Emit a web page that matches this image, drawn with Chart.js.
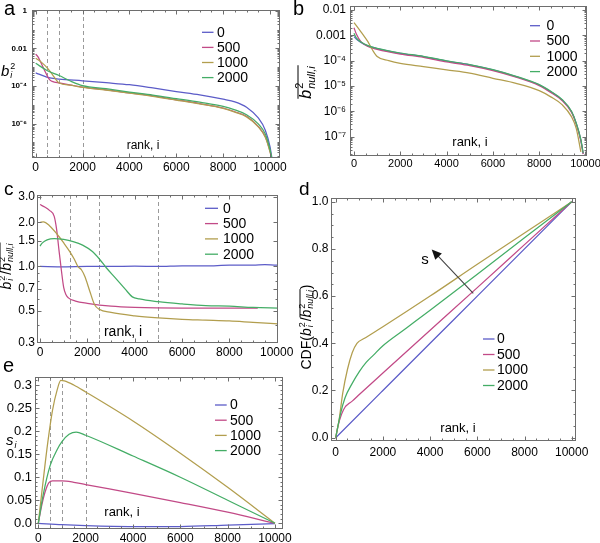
<!DOCTYPE html>
<html>
<head>
<meta charset="utf-8">
<script src="https://cdn.jsdelivr.net/npm/chart.js@4.4.1/dist/chart.umd.min.js"></script>
<style>
html,body{margin:0;padding:0;background:#fff;}
#wrap{position:relative;width:600px;height:543px;overflow:hidden;background:#fff;}
#wrap canvas{position:absolute;left:0;top:0;}
</style>
</head>
<body>
<div id="wrap">
<canvas id="pa" width="600" height="543"></canvas>
<canvas id="pb" width="600" height="543"></canvas>
<canvas id="pc" width="600" height="543"></canvas>
<canvas id="pd" width="600" height="543"></canvas>
<canvas id="pe" width="600" height="543"></canvas>
</div>
<script>
// ---------- shared ----------
const seriesNames = ['0', '500', '1000', '2000'];
const seriesColors = ['#5c5cc8', '#c24a87', '#b29e4e', '#44ad66'];
const rankTicks = [0, 2000, 4000, 6000, 8000, 10000];
const rankTickLabels = ['0', '2000', '4000', '6000', '8000', '10000'];

// ---------- panel a : b_i^2 ----------
const aYTicks = [1, 0.01, 1e-4, 1e-6];
const aYTickLabels = ['1', '0.01', '10\u207B\u2074', '10\u207B\u2076'];
const aMarks = [500, 1000, 2000];
const aRank0 = [0, 500, 1000, 2000, 3000, 4000, 5000, 6000, 7000, 8000, 8500, 9000, 9500, 9800, 10000, 10100];
const aVal0 = [5.0e-4, 2.9e-4, 2.35e-4, 1.9e-4, 1.5e-4, 1.17e-4, 7.9e-5, 5.1e-5, 3.4e-5, 2.0e-5, 1.45e-5, 7.5e-6, 2.0e-6, 4.5e-7, 6e-8, 1e-8];
const aRank500 = [0, 100, 200, 300, 400, 500, 600, 700, 800, 1000, 1500, 2000, 3000, 4000, 5000, 6000, 7000, 8000, 8500, 9000, 9500, 9800, 10000, 10100];
const aVal500 = [4.9e-3, 3.5e-3, 2.0e-3, 1.1e-3, 5.9e-4, 3.3e-4, 2.1e-4, 1.75e-4, 1.6e-4, 1.45e-4, 1.12e-4, 8.7e-5, 6.3e-5, 4.3e-5, 2.95e-5, 1.86e-5, 1.17e-5, 6.8e-6, 4.3e-6, 2.45e-6, 7.2e-7, 2.0e-7, 3.5e-8, 1e-8];
const aRank1000 = [0, 250, 500, 750, 1000, 1500, 2000, 3000, 4000, 5000, 6000, 7000, 8000, 8500, 9000, 9500, 9800, 10000, 10100];
const aVal1000 = [3.0e-3, 1.8e-3, 8.9e-4, 3.5e-4, 1.45e-4, 1.1e-4, 8.5e-5, 6.1e-5, 4.2e-5, 2.85e-5, 1.8e-5, 1.12e-5, 6.5e-6, 4.1e-6, 2.3e-6, 6.8e-7, 1.9e-7, 3.2e-8, 1e-8];
const aRank2000 = [0, 500, 1000, 1500, 2000, 3000, 4000, 5000, 6000, 7000, 8000, 8500, 9000, 9500, 9800, 10000, 10100];
const aVal2000 = [1.6e-3, 6.5e-4, 3.6e-4, 1.8e-4, 1.05e-4, 7.2e-5, 4.8e-5, 3.3e-5, 2.14e-5, 1.38e-5, 8.3e-6, 5.4e-6, 3.0e-6, 9.8e-7, 2.8e-7, 4.3e-8, 1e-8];

// ---------- panel b : null b^2 ----------
const bYTicks = [0.01, 0.001, 1e-4, 1e-5, 1e-6, 1e-7];
const bYTickLabels = ['0.01', '0.001', '10\u207B\u2074', '10\u207B\u2075', '10\u207B\u2076', '10\u207B\u2077'];
const bRank0 = [0, 100, 300, 600, 1000, 2000, 3000, 4000, 5000, 6000, 7000, 8000, 8500, 9000, 9400, 9600, 9800, 9900];
const bVal0 = [8.9e-4, 7.1e-4, 5.2e-4, 3.8e-4, 3.0e-4, 1.95e-4, 1.45e-4, 9.5e-5, 6.8e-5, 4.3e-5, 2.34e-5, 1.1e-5, 5.9e-6, 2.75e-6, 9.5e-7, 3.3e-7, 7.2e-8, 2.1e-8];
const bRank500 = [0, 100, 300, 600, 1000, 2000, 3000, 4000, 5000, 6000, 7000, 8000, 8500, 9000, 9400, 9600, 9800, 9900];
const bVal500 = [2.0e-3, 1.12e-3, 5.6e-4, 3.6e-4, 2.8e-4, 1.82e-4, 1.35e-4, 8.9e-5, 6.3e-5, 4.0e-5, 2.2e-5, 1.03e-5, 5.5e-6, 2.6e-6, 9e-7, 3.1e-7, 6.8e-8, 2e-8];
const bRank1000 = [0, 300, 600, 800, 1000, 1500, 2000, 3000, 4000, 5000, 6000, 7000, 8000, 8500, 9000, 9400, 9600, 9800];
const bVal1000 = [3.2e-3, 1.38e-3, 5.6e-4, 2.63e-4, 1.45e-4, 1.0e-4, 7.8e-5, 5.8e-5, 4.3e-5, 3.2e-5, 2.0e-5, 1.26e-5, 6.5e-6, 3.7e-6, 1.78e-6, 6.0e-7, 2.1e-7, 2.5e-8];
const bRank2000 = [0, 100, 300, 600, 1000, 2000, 3000, 4000, 5000, 6000, 7000, 8000, 8500, 9000, 9400, 9600, 9800, 9900];
const bVal2000 = [1.2e-3, 7.9e-4, 5.4e-4, 3.9e-4, 3.05e-4, 2.0e-4, 1.48e-4, 9.8e-5, 7.0e-5, 4.4e-5, 2.4e-5, 1.13e-5, 6.1e-6, 2.85e-6, 9.8e-7, 3.4e-7, 7.5e-8, 2.2e-8];

// ---------- panel c : ratio ----------
const cYTicks = [0.3, 0.5, 0.7, 1.0, 1.5, 2.0, 3.0];
const cYTickLabels = ['0.3', '0.5', '0.7', '1.0', '1.5', '2.0', '3.0'];
const cMarks = [1250, 2500, 5000];
const cRank0 = [0, 1000, 2000, 3000, 4000, 5000, 6000, 7000, 8000, 9000, 9500, 10000, 10100];
const cVal0 = [1.0, 0.995, 1.0, 1.0, 1.005, 1.0, 1.01, 1.01, 1.02, 1.02, 1.03, 1.02, 1.02];
const cRank500 = [0, 200, 400, 600, 700, 800, 900, 1000, 1100, 1200, 1500, 2000, 3000, 4000, 6000, 8000, 9200];
const cVal500 = [2.65, 2.55, 2.42, 2.2, 1.8, 1.3, 0.95, 0.72, 0.64, 0.61, 0.58, 0.56, 0.535, 0.525, 0.52, 0.52, 0.52];
const cRank1000 = [0, 150, 400, 700, 1000, 1250, 1450, 1600, 1750, 1900, 2100, 2300, 2500, 3000, 4000, 5000, 6000, 7000, 8000, 9000, 10100];
const cVal1000 = [2.0, 2.02, 1.9, 1.68, 1.45, 1.27, 1.12, 1.0, 0.95, 0.85, 0.68, 0.55, 0.51, 0.485, 0.46, 0.445, 0.435, 0.43, 0.425, 0.415, 0.405];
const cRank2000 = [0, 100, 300, 600, 1000, 1400, 1800, 2200, 2500, 2800, 3200, 3600, 3900, 4200, 5000, 6000, 7000, 8000, 9000, 10100];
const cVal2000 = [1.38, 1.45, 1.52, 1.55, 1.53, 1.48, 1.40, 1.27, 1.13, 0.98, 0.83, 0.70, 0.62, 0.60, 0.575, 0.555, 0.54, 0.535, 0.525, 0.52];

// ---------- panel d : CDF ----------
const dYTicks = [0, 0.2, 0.4, 0.6, 0.8, 1.0];
const dYTickLabels = ['0.0', '0.2', '0.4', '0.6', '0.8', '1.0'];
const dRank0 = [0, 2000, 4000, 6000, 8000, 10000];
const dVal0 = [0, 0.2, 0.4, 0.6, 0.8, 1.0];
const dRank500 = [0, 100, 250, 400, 500, 700, 1000, 2000, 4000, 6000, 8000, 10000];
const dVal500 = [0, 0.05, 0.1, 0.13, 0.14, 0.155, 0.183, 0.274, 0.455, 0.636, 0.818, 1.0];
const dRank1000 = [0, 150, 300, 500, 700, 900, 1200, 2000, 4000, 6000, 8000, 10000];
const dVal1000 = [0, 0.08, 0.19, 0.29, 0.36, 0.40, 0.42, 0.47, 0.60, 0.735, 0.867, 1.0];
const dRank2000 = [0, 200, 400, 700, 1000, 1300, 1600, 2000, 3000, 4000, 6000, 8000, 10000];
const dVal2000 = [0, 0.1, 0.17, 0.23, 0.28, 0.32, 0.35, 0.39, 0.465, 0.54, 0.693, 0.847, 1.0];

// ---------- panel e : s_i ----------
const eYTicks = [0, 0.05, 0.1, 0.15, 0.2, 0.25, 0.3];
const eYTickLabels = ['0.0', '0.05', '0.1', '0.15', '0.2', '0.25', '0.3'];
const eMarks = [500, 1000, 2000];
const eRank0 = [0, 1000, 2000, 4000, 6000, 8000, 10000];
const eVal0 = [0, -0.003, -0.005, -0.007, -0.007, -0.004, -0.001];
const eRank500 = [0, 150, 300, 450, 600, 1000, 1500, 2000, 4000, 6000, 8000, 10000];
const eVal500 = [0, 0.04, 0.07, 0.088, 0.092, 0.092, 0.089, 0.084, 0.065, 0.045, 0.024, 0];
const eRank1000 = [0, 200, 400, 600, 800, 950, 1100, 1500, 2000, 4000, 6000, 8000, 10000];
const eVal1000 = [0, 0.09, 0.175, 0.245, 0.29, 0.31, 0.309, 0.3, 0.285, 0.222, 0.152, 0.078, 0];
const eRank2000 = [0, 200, 500, 800, 1000, 1300, 1600, 2000, 4000, 6000, 8000, 10000];
const eVal2000 = [0, 0.06, 0.125, 0.16, 0.177, 0.193, 0.198, 0.191, 0.146, 0.1, 0.05, 0];

// ---------- helpers ----------
const FONT = '"Liberation Sans", Arial, sans-serif';
const decoConfigs = {};
function fontStr(size, it, bold) { return (it ? 'italic ' : '') + (bold ? 'bold ' : '') + size + 'px ' + FONT; }

function drawRich(ctx, item) {
  const segs = item.segs;
  ctx.save();
  ctx.translate(item.x, item.y);
  if (item.rot) ctx.rotate(item.rot * Math.PI / 180);
  ctx.textBaseline = item.base || 'alphabetic';
  ctx.textAlign = 'left';
  ctx.fillStyle = '#000';
  const widths = segs.map(s => {
    if (s.sub !== undefined || s.sup !== undefined) {
      ctx.font = fontStr(s.size, true);
      const w1 = s.sub ? ctx.measureText(s.sub).width : 0;
      ctx.font = fontStr(s.size, false);
      const w2 = s.sup ? ctx.measureText(s.sup).width : 0;
      return Math.max(w1, w2) + 1;
    }
    ctx.font = fontStr(s.size, s.it);
    return ctx.measureText(s.t).width + (s.it ? 1 : 0);
  });
  const total = widths.reduce((p, q) => p + q, 0);
  let cx = item.align === 'center' ? -total / 2 : (item.align === 'right' ? -total : 0);
  let o0 = null, o1 = null;
  segs.forEach((s, i) => {
    if (s.sub !== undefined || s.sup !== undefined) {
      if (s.sub) { ctx.font = fontStr(s.size, true); ctx.fillText(s.sub, cx, s.subDy !== undefined ? s.subDy : 3); }
      if (s.sup) { ctx.font = fontStr(s.size, false); ctx.fillText(s.sup, cx, s.supDy !== undefined ? s.supDy : -7); }
    } else {
      ctx.font = fontStr(s.size, s.it);
      ctx.fillText(s.t, cx, s.dy || 0);
    }
    if (s.over) { if (o0 === null) o0 = cx; o1 = cx + widths[i]; }
    cx += widths[i];
  });
  if (o0 !== null) {
    ctx.strokeStyle = '#000'; ctx.lineWidth = 1;
    ctx.beginPath(); ctx.moveTo(o0, item.overY); ctx.lineTo(o1, item.overY); ctx.stroke();
  }
  ctx.restore();
}

function minorValues(scale, step) {
  const out = [];
  if (scale.type === 'logarithmic') {
    const lo = Math.floor(Math.log10(scale.min)), hi = Math.ceil(Math.log10(scale.max));
    for (let n = lo; n <= hi; n++) for (let k = 1; k <= 9; k++) {
      const v = k * Math.pow(10, n);
      if (v >= scale.min && v <= scale.max) out.push(v);
    }
  } else {
    const s0 = Math.ceil(scale.min / step) * step;
    for (let v = s0; v <= scale.max + 1e-9; v += step) out.push(v);
  }
  return out;
}

const decoPlugin = {
  id: 'deco',
  beforeDatasetsDraw(chart) {
    const cfg = decoConfigs[chart.canvas.id];
    const { ctx, chartArea: ca, scales: { x } } = chart;
    if (cfg.marks) {
      ctx.save();
      ctx.strokeStyle = '#9a9a9a'; ctx.lineWidth = 1; ctx.setLineDash([4, 3]);
      cfg.marks.forEach(v => {
        const px = Math.round(x.getPixelForValue(v)) + 0.5;
        ctx.beginPath(); ctx.moveTo(px, ca.top); ctx.lineTo(px, ca.bottom); ctx.stroke();
      });
      ctx.restore();
    }
  },
  afterDraw(chart) {
    const cfg = decoConfigs[chart.canvas.id];
    const { ctx, chartArea: ca, scales: { x, y } } = chart;
    ctx.save();
    const L = Math.round(ca.left) + 0.5, T = Math.round(ca.top) + 0.5, R = Math.round(ca.right) - 0.5, B = Math.round(ca.bottom) - 0.5;
    ctx.strokeStyle = '#6e6e6e'; ctx.lineWidth = 1;
    ctx.strokeRect(L, T, R - L, B - T);
    const xt = (vals, len) => vals.forEach(v => {
      const p = Math.round(x.getPixelForValue(v)) + 0.5;
      if (p < L || p > R) return;
      ctx.beginPath(); ctx.moveTo(p, B); ctx.lineTo(p, B - len); ctx.moveTo(p, T); ctx.lineTo(p, T + len); ctx.stroke();
    });
    const yt = (vals, len) => vals.forEach(v => {
      const p = Math.round(y.getPixelForValue(v)) + 0.5;
      if (p < T - 0.1 || p > B + 0.1) return;
      ctx.beginPath(); ctx.moveTo(L, p); ctx.lineTo(L + len, p); ctx.moveTo(R, p); ctx.lineTo(R - len, p); ctx.stroke();
    });
    xt(minorValues(x, 500), 2); xt(rankTicks, 4);
    yt(minorValues(y, cfg.yMinorStep), 2); yt(cfg.yTicks, 4);
    if (cfg.arrow) {
      const a = cfg.arrow;
      const x1 = x.getPixelForValue(a.from[0]), y1 = y.getPixelForValue(a.from[1]);
      const x2 = x.getPixelForValue(a.to[0]), y2 = y.getPixelForValue(a.to[1]);
      const ang = Math.atan2(y2 - y1, x2 - x1), HL = 10, HW = 4.5;
      ctx.strokeStyle = '#444'; ctx.lineWidth = 1.1;
      ctx.beginPath(); ctx.moveTo(x1, y1); ctx.lineTo(x2 - HL * 0.8 * Math.cos(ang), y2 - HL * 0.8 * Math.sin(ang)); ctx.stroke();
      ctx.fillStyle = '#111';
      ctx.beginPath(); ctx.moveTo(x2, y2);
      ctx.lineTo(x2 - HL * Math.cos(ang) + HW * Math.sin(ang), y2 - HL * Math.sin(ang) - HW * Math.cos(ang));
      ctx.lineTo(x2 - HL * Math.cos(ang) - HW * Math.sin(ang), y2 - HL * Math.sin(ang) + HW * Math.cos(ang));
      ctx.closePath(); ctx.fill();
      ctx.fillStyle = '#000'; ctx.font = fontStr(15, false); ctx.textAlign = 'center'; ctx.textBaseline = 'middle';
      ctx.fillText(a.label, x.getPixelForValue(a.labelAt[0]), y.getPixelForValue(a.labelAt[1]));
    }
    const lg = cfg.legend;
    seriesNames.forEach((n, i) => {
      const yy = lg.y + i * lg.dy;
      ctx.strokeStyle = seriesColors[i]; ctx.lineWidth = 1.3;
      ctx.beginPath(); ctx.moveTo(lg.x, yy); ctx.lineTo(lg.x + lg.len, yy); ctx.stroke();
      ctx.fillStyle = '#000'; ctx.font = fontStr(lg.size, false); ctx.textAlign = 'left'; ctx.textBaseline = 'middle';
      ctx.fillText(n, lg.x + lg.len + lg.gap, yy + 0.5);
    });
    ctx.restore();
    cfg.texts.forEach(t => drawRich(ctx, t));
  }
};

function panel(id, area, xr, yr, pairs, deco) {
  decoConfigs[id] = Object.assign({ yTicks: yr.ticks, yMinorStep: yr.minorStep }, deco);
  const YW = area[0], XH = 543 - area[3];
  const datasets = pairs.map((p, i) => ({
    label: seriesNames[i],
    data: p[0].map((r, j) => ({ x: r, y: p[1][j] })),
    borderColor: seriesColors[i], backgroundColor: seriesColors[i],
    borderWidth: 1.25, pointRadius: 0, showLine: true, fill: false,
    cubicInterpolationMode: 'monotone', order: 3 - i
  }));
  new Chart(document.getElementById(id), {
    type: 'scatter',
    data: { datasets },
    options: {
      responsive: false, animation: false, events: [],
      layout: { autoPadding: false, padding: { left: 0, top: area[1], right: 600 - area[2], bottom: 0 } },
      plugins: { legend: { display: false }, tooltip: { enabled: false } },
      scales: {
        x: {
          type: 'linear', bounds: 'data', min: xr.min, max: xr.max,
          afterBuildTicks: s => { s.ticks = rankTicks.map(v => ({ value: v })); },
          afterFit: s => { s.height = XH; s.paddingLeft = 0; s.paddingRight = 0; },
          ticks: { autoSkip: false, maxRotation: 0, minRotation: 0, padding: xr.pad, color: '#000',
                   font: { family: FONT, size: xr.size }, callback: (v, i) => rankTickLabels[i] },
          grid: { display: false, drawTicks: false }, border: { display: false }
        },
        y: {
          type: yr.type, bounds: 'data', min: yr.min, max: yr.max,
          afterBuildTicks: s => { s.ticks = yr.ticks.map(v => ({ value: v })); },
          afterFit: s => { s.width = YW; s.paddingTop = 0; s.paddingBottom = 0; },
          ticks: { autoSkip: false, maxRotation: 0, minRotation: 0, padding: yr.pad, color: '#000',
                   font: { family: FONT, size: yr.size, weight: yr.weight || 'normal' }, callback: (v, i) => yr.labels[i] },
          grid: { display: false, drawTicks: false }, border: { display: false }
        }
      }
    },
    plugins: [decoPlugin]
  });
}

// ---------- build panels ----------
panel('pa', [32, 10, 280, 158],
  { min: -158, max: 10427, pad: 2, size: 12 },
  { type: 'logarithmic', min: 1.5e-8, max: 1.09, ticks: aYTicks, labels: aYTickLabels, pad: 5, size: 8, weight: 'bold' },
  [[aRank0, aVal0], [aRank500, aVal500], [aRank1000, aVal1000], [aRank2000, aVal2000]],
  { marks: aMarks,
    legend: { x: 202, y: 32.3, dy: 15.1, len: 11.5, gap: 3.5, size: 14 },
    texts: [
      { segs: [{ t: 'rank, i', size: 12 }], x: 143, y: 146, align: 'center', base: 'middle' },
      { segs: [{ t: 'a', size: 20 }], x: 4, y: 15 },
      { segs: [{ t: 'b', size: 15, it: true }, { sub: 'i', sup: '2', size: 9, subDy: 2, supDy: -7 }], x: 1, y: 76 }
    ] });

panel('pb', [350, 6, 587, 156],
  { min: -173, max: 10065, pad: 1, size: 11 },
  { type: 'logarithmic', min: 1.7e-8, max: 0.0144, ticks: bYTicks, labels: bYTickLabels, pad: 4, size: 12 },
  [[bRank0, bVal0], [bRank500, bVal500], [bRank1000, bVal1000], [bRank2000, bVal2000]],
  { legend: { x: 530, y: 25.7, dy: 15.3, len: 10, gap: 6.5, size: 14 },
    texts: [
      { segs: [{ t: 'rank, i', size: 13 }], x: 470, y: 142, align: 'center', base: 'middle' },
      { segs: [{ t: 'b', size: 20 }], x: 293, y: 15 },
      { segs: [{ t: 'b', size: 16, it: true, over: true }, { sub: 'null,i', sup: '2', size: 11, subDy: 4, supDy: -8, over: true }],
        x: 311, y: 82, rot: -90, align: 'center', overY: -13 }
    ] });

panel('pc', [37, 195, 278, 343],
  { min: -127, max: 10055, pad: 2, size: 12 },
  { type: 'logarithmic', min: 0.3, max: 3.08, ticks: cYTicks, labels: cYTickLabels, pad: 2, size: 12 },
  [[cRank0, cVal0], [cRank500, cVal500], [cRank1000, cVal1000], [cRank2000, cVal2000]],
  { marks: cMarks,
    legend: { x: 205, y: 208.3, dy: 15.3, len: 13, gap: 5, size: 14 },
    texts: [
      { segs: [{ t: 'rank, i', size: 14 }], x: 123, y: 332, align: 'center', base: 'middle' },
      { segs: [{ t: 'c', size: 19 }], x: 4, y: 195 },
      { segs: [{ t: 'b', size: 14, it: true }, { sub: 'i', sup: '2', size: 9, subDy: 2, supDy: -6 }, { t: '/', size: 14 },
               { t: 'b', size: 14, it: true, over: true }, { sub: 'null,i', sup: '2', size: 9, subDy: 2, supDy: -6, over: true }],
        x: 11, y: 266, rot: -90, align: 'center', overY: -11 }
    ] });

panel('pd', [331, 198, 576, 441],
  { min: -199, max: 10182, pad: 4, size: 12 },
  { type: 'linear', min: -0.014, max: 1.0157, ticks: dYTicks, labels: dYTickLabels, pad: 2.5, size: 12, minorStep: 0.05 },
  [[dRank0, dVal0], [dRank500, dVal500], [dRank1000, dVal1000], [dRank2000, dVal2000]],
  { arrow: { from: [5830, 0.612], to: [4068, 0.798], label: 's', labelAt: [3784, 0.753] },
    legend: { x: 483, y: 339, dy: 15.5, len: 11.5, gap: 2.5, size: 14 },
    texts: [
      { segs: [{ t: 'rank, i', size: 13 }], x: 458, y: 428, align: 'center', base: 'middle' },
      { segs: [{ t: 'd', size: 19 }], x: 299, y: 195 },
      { segs: [{ t: 'CDF(', size: 14 }, { t: 'b', size: 14, it: true }, { sub: 'i', sup: '2', size: 9, subDy: 2, supDy: -6 }, { t: '/', size: 14 },
               { t: 'b', size: 14, it: true, over: true }, { sub: 'null,i', sup: '2', size: 9, subDy: 2, supDy: -6, over: true }, { t: ')', size: 14 }],
        x: 311, y: 327, rot: -90, align: 'center', overY: -11 }
    ] });

panel('pe', [35, 377, 283, 529],
  { min: -139, max: 10338, pad: 2, size: 12 },
  { type: 'linear', min: -0.0124, max: 0.3174, ticks: eYTicks, labels: eYTickLabels, pad: 3, size: 13, minorStep: 0.01 },
  [[eRank0, eVal0], [eRank500, eVal500], [eRank1000, eVal1000], [eRank2000, eVal2000]],
  { marks: eMarks,
    legend: { x: 215, y: 405, dy: 15.2, len: 11.7, gap: 3.3, size: 14 },
    texts: [
      { segs: [{ t: 'rank, i', size: 13 }], x: 122, y: 512, align: 'center', base: 'middle' },
      { segs: [{ t: 'e', size: 20 }], x: 3, y: 372 },
      { segs: [{ t: 's', size: 15, it: true }, { sub: 'i', size: 9, subDy: 3 }], x: 6, y: 445 }
    ] });
</script>
</body>
</html>
